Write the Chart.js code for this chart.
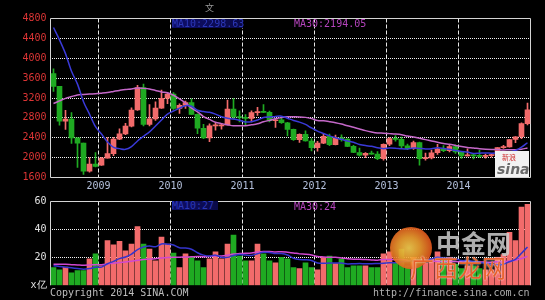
<!DOCTYPE html>
<html><head><meta charset="utf-8">
<script src="https://cdn.jsdelivr.net/npm/chart.js@4.4.1/dist/chart.umd.min.js"></script>
<style>
html,body{margin:0;padding:0;background:#000;width:545px;height:300px;overflow:hidden;}
#wrap{position:relative;width:545px;height:300px;background:#000;font-family:'DejaVu Sans Mono',monospace;}
canvas{position:absolute;left:0;}
.t{position:absolute;font-size:10px;line-height:10px;white-space:nowrap;font-family:'DejaVu Sans Mono',monospace;}
</style></head><body>
<div id="wrap">
<canvas id="price" width="545" height="196" style="top:0px"></canvas>
<canvas id="vol" width="545" height="110" style="top:190px"></canvas>

<div class="t" style="left:205px;top:3px;color:#9a9a9a;font-family:'Noto Sans CJK SC';font-size:9px;">文</div>
<div class="t" style="left:172px;top:19px;width:71px;height:9px;background:linear-gradient(90deg,#0e0e6a,#0a0a48);color:#2c38b8;">MA10:2298.63</div>
<div class="t" style="left:294px;top:19px;color:#b444bc;">MA30:2194.05</div>
<div class="t" style="left:172px;top:201px;width:46px;height:9px;background:linear-gradient(90deg,#0e0e6a,#0a0a48);color:#2c38b8;overflow:hidden;">MA10:27</div>
<div class="t" style="left:294px;top:202px;color:#b444bc;">MA30:24</div>

<div class="t" style="left:495px;top:151px;width:34px;height:26px;background:#f2f2f2;"></div>
<div class="t" style="left:502px;top:152px;color:#d03030;font-size:7px;font-family:'Noto Sans CJK SC';">新浪</div>
<div class="t" style="left:497px;top:162px;color:#6a6a6a;font-size:14px;line-height:14px;font-style:italic;font-weight:bold;font-family:'DejaVu Sans';">sina</div>

<div style="position:absolute;left:390px;top:227px;width:42px;height:42px;border-radius:50%;background:radial-gradient(circle at 45% 50%,#f8d050 0%,#f0a030 35%,#e0501a 75%,#b8300e 100%);opacity:0.9;"></div>
<div class="t" style="left:436px;top:229px;font-size:25px;line-height:27px;font-weight:bold;color:rgba(205,205,205,0.85);font-family:'Noto Sans CJK SC';">中金网</div>
<div class="t" style="left:410px;top:253px;font-size:24px;line-height:28px;color:#e8602a;text-shadow:0 0 2px #fff;font-family:'Noto Sans CJK SC';">广西龙网</div>

<div class="t" style="left:50px;top:288px;color:#bdbdbd;">Copyright 2014 SINA.COM</div>
<div class="t" style="left:373px;top:288px;color:#b0b0b0;">http://finance.sina.com.cn</div>
</div>
<script>
// Months: May 2008 .. Dec 2014 (80 monthly candles)
const startYear = 2008, startMonth = 5, monthCount = 80;
const months = [];
for (let k = 0; k < monthCount; k++) {
  const m = startMonth - 1 + k;
  months.push((startYear + Math.floor(m / 12)) + '-' + String(m % 12 + 1).padStart(2, '0'));
}
const yearLabels = ['2009','2010','2011','2012','2013','2014'];
const yearTickIdx = [8,20,32,44,56,68];

const open = [3693,3433,2736,2775,2397,2293,1729,1871,
 1849,1991,2082,2373,2477,2633,2959,3412,2667,2779,2996,3195,
 3277,2989,3052,3110,2871,2592,2398,2638,2639,2656,2979,2820,
 2808,2791,2906,2928,2911,2743,2762,2701,2568,2359,2469,2334,
 2199,2293,2428,2263,2397,2373,2226,2103,2048,2086,2069,1980,
 2269,2385,2366,2237,2178,2301,1979,1994,2098,2175,2142,2220,
 2116,2033,2056,2033,2026,2039,2048,2202,2217,2364,2420,2683];
const high = [3786,3434,2952,2909,2400,2293,2000,2100,
 2006,2402,2408,2579,2689,3000,3454,3478,3068,3123,3361,3306,
 3307,3081,3136,3181,2880,2670,2678,2707,2688,3159,3186,2940,
 2868,2944,3013,3067,2937,2784,2826,2710,2575,2480,2537,2381,
 2329,2478,2476,2454,2461,2385,2248,2191,2100,2134,2121,2277,
 2402,2444,2412,2273,2334,2315,2093,2150,2270,2243,2267,2260,
 2125,2177,2079,2148,2070,2080,2202,2248,2364,2425,2700,3100];
const low = [3333,2654,2566,2284,1802,1664,1707,1814,
 1844,1990,2038,2362,2461,2620,2950,2639,2640,2750,2990,3087,
 2970,2890,2989,2868,2481,2382,2320,2553,2573,2656,2774,2721,
 2661,2718,2849,2906,2718,2610,2687,2437,2347,2307,2330,2135,
 2132,2282,2242,2255,2333,2222,2100,2030,1998,2062,1959,1949,
 2239,2330,2187,2162,2164,1849,1950,1975,2064,2118,2116,2087,
 1984,2030,1975,2002,1991,2010,2032,2187,2210,2300,2380,2660];
const close = [3433,2736,2775,2397,2293,1729,1871,1821,
 1991,2082,2373,2477,2633,2959,3412,2667,2779,2996,3195,3277,
 2989,3052,3110,2871,2592,2398,2638,2639,2656,2979,2820,2808,
 2791,2906,2928,2911,2743,2762,2701,2568,2359,2469,2334,2199,
 2293,2428,2263,2397,2373,2226,2103,2048,2086,2069,1980,2269,
 2385,2366,2237,2178,2301,1979,1994,2098,2175,2142,2220,2116,
 2033,2056,2033,2026,2039,2048,2202,2217,2364,2420,2683,2960];
const ma10 = [4619,4371,4093,3737,3479,3126,2875,2622,
 2474,2313,2207,2181,2167,2223,2335,2429,2519,2637,2757,2877,
 2938,2996,3044,3035,2953,2926,2912,2876,2822,2792,2776,2751,
 2719,2723,2756,2808,2818,2830,2835,2794,2748,2714,2668,2597,
 2534,2486,2438,2401,2368,2334,2309,2266,2242,2229,2197,2181,
 2194,2191,2177,2172,2192,2185,2176,2179,2198,2186,2169,2144,
 2124,2111,2085,2089,2094,2089,2092,2099,2113,2144,2209,2299];
const ma30 = [3089,3142,3193,3229,3262,3272,3280,3285,
 3297,3311,3332,3353,3371,3381,3401,3394,3381,3353,3322,3304,
 3255,3182,3101,2998,2922,2827,2769,2712,2684,2661,2640,2643,
 2643,2660,2681,2721,2750,2781,2805,2821,2821,2820,2810,2785,
 2748,2740,2723,2703,2675,2640,2611,2577,2543,2516,2496,2492,
 2483,2474,2460,2433,2416,2388,2362,2335,2310,2284,2267,2245,
 2223,2206,2195,2180,2170,2165,2162,2155,2159,2159,2170,2194];
const volume = [12.7,11,13,9,10.5,10.5,19,22.5,
 14,32,29,31.5,24.6,29.6,42,29.6,26,17.6,34.5,29.6,
 23,12.7,22.5,20,17.6,12.7,19,24,19,29.6,36,21,
 17.6,17.6,29.6,22.5,17.6,16,20,19,12.7,12,16,12.7,
 11,20,21,15.5,19,12.7,14,14,14,12.7,12.7,22.5,
 24,16,26,14,20,19,16,19,24,18,20,15,
 12,14,14,12,11,11,20,22,38,32,56,58];
const vma10 = [14,13.5,13,12.5,12,11.5,12,13,
 13,15.4,17.1,19.1,20.3,22.3,25.5,27.4,28.1,27.6,29.6,29.4,
 28.8,26.9,26.7,25.8,23.3,21.6,20.9,21.6,20.0,20.0,21.3,22.1,
 21.7,21.4,22.6,23.6,23.5,22.7,22.8,21.7,19.4,18.5,18.3,17.8,
 16.0,15.7,16.0,16.0,15.9,15.3,15.4,15.6,15.4,15.4,15.6,15.8,
 16.1,16.2,16.9,17.0,17.6,18.1,18.3,18.9,20.1,19.6,19.2,19.1,
 17.7,17.7,17.1,16.4,15.9,15.1,14.7,15.1,16.9,18.6,23.0,27.4];
const vma30 = [15,15,15,14.8,14.6,14.4,14.5,14.8,
 14.8,15.3,15.8,16.3,16.7,17.2,17.9,18.4,18.8,19.0,19.5,19.9,
 20.1,20.1,20.3,20.4,20.6,20.5,20.6,20.9,21.0,21.6,22.4,22.7,
 22.9,23.2,23.8,24.2,24.2,23.9,24.1,23.7,23.2,22.5,22.2,21.7,
 20.6,20.3,20.1,20.1,19.6,19.0,18.7,18.7,18.4,18.2,18.0,18.4,
 18.5,18.3,18.5,18.0,17.4,17.4,17.3,17.4,17.2,17.0,17.1,17.1,
 16.8,16.7,16.7,16.7,16.5,16.5,16.8,16.8,17.4,18.0,19.2,20.7];

Chart.defaults.font.family = "'DejaVu Sans Mono', monospace";
Chart.defaults.font.size = 10;

const RED = '#f26b6b', GREEN = '#1faa22';
const candleColor = months.map((m, i) => close[i] >= open[i] ? RED : GREEN);
const pos = i => i + 0.5;

// Grid lines and frame drawn from the chart's own scales (tick pixels via getPixelForValue)
function gridFramePlugin(fullFrame) {
  return { id: 'gridFrame', beforeDatasetsDraw(c) {
    const a = c.chartArea, ctx = c.ctx, xs = c.scales.x, ys = c.scales.y;
    const crisp = p => Math.round(p - 0.5) + 0.5;
    ctx.save();
    ctx.lineWidth = 1;
    ctx.strokeStyle = '#e6e6e6'; ctx.setLineDash([4, 2]);
    xs.ticks.forEach(t => {
      const p = crisp(xs.getPixelForValue(t.value));
      ctx.beginPath(); ctx.moveTo(p, a.top); ctx.lineTo(p, a.bottom); ctx.stroke();
    });
    ctx.setLineDash([]);
    ctx.fillStyle = '#f4f4f4';
    ys.ticks.forEach(t => {
      if (t.value <= ys.min || t.value >= ys.max) return;
      const row = Math.floor(ys.getPixelForValue(t.value));
      for (let x = Math.ceil(a.left) + 1; x < a.right - 1; x += 2) ctx.fillRect(x, row, 1, 1);
    });
    ctx.strokeStyle = '#d4d4d4';
    ctx.beginPath();
    ctx.moveTo(a.left, a.bottom); ctx.lineTo(a.left, a.top); ctx.lineTo(a.right, a.top); ctx.lineTo(a.right, a.bottom);
    if (fullFrame) ctx.lineTo(a.left, a.bottom);
    ctx.stroke();
    ctx.restore();
  }};
}

const xAxis = (showLabels) => ({
  type: 'linear', min: 0, max: monthCount, offset: false,
  afterBuildTicks: s => { s.ticks = yearTickIdx.map(v => ({ value: v })); },
  afterFit: s => { s.height = showLabels ? 18.5 : 0; },
  ticks: { display: showLabels, autoSkip: false, maxRotation: 0, padding: 3, color: '#b4c0dc',
           callback: (v, i) => yearLabels[i] },
  grid: { display: false, offset: false, drawTicks: false },
  border: { display: false }
});

new Chart(document.getElementById('price'), {
  type: 'bar',
  data: { datasets: [
    { type: 'line', data: ma10.map((v, i) => ({ x: pos(i), y: v })), borderColor: '#3a3ad8', borderWidth: 1.5, pointRadius: 0, tension: 0.3, order: 0 },
    { type: 'line', data: ma30.map((v, i) => ({ x: pos(i), y: v })), borderColor: '#c468c8', borderWidth: 1.5, pointRadius: 0, tension: 0.3, order: 0 },
    { data: months.map((m, i) => ({ x: pos(i), y: [low[i], high[i]] })), backgroundColor: candleColor, barThickness: 1, grouped: false, order: 2 },
    { data: months.map((m, i) => ({ x: pos(i), y: [open[i], close[i]] })), backgroundColor: candleColor, barThickness: 5, grouped: false, minBarLength: 1, order: 1 }
  ]},
  options: {
    responsive: false, animation: false, events: [],
    layout: { padding: { top: 18.5, right: 14.5, left: 0, bottom: 0 } },
    plugins: { legend: { display: false }, tooltip: { enabled: false } },
    scales: {
      x: xAxis(true),
      y: { min: 1600, max: 4800, afterFit: s => { s.width = 50.5; },
           ticks: { stepSize: 400, padding: 4, color: '#dd3535', callback: v => String(v) },
           grid: { display: false, drawTicks: false },
           border: { display: false } }
    }
  },
  plugins: [gridFramePlugin(true)]
});

new Chart(document.getElementById('vol'), {
  type: 'bar',
  data: { datasets: [
    { type: 'line', data: vma10.map((v, i) => ({ x: pos(i), y: v })), borderColor: '#3434cc', borderWidth: 1.5, pointRadius: 0, tension: 0.3, order: 0 },
    { type: 'line', data: vma30.map((v, i) => ({ x: pos(i), y: v })), borderColor: '#d048d0', borderWidth: 1.5, pointRadius: 0, tension: 0.3, order: 0 },
    { data: months.map((m, i) => ({ x: pos(i), y: volume[i] })), backgroundColor: candleColor, barThickness: 5, grouped: false, order: 1 }
  ]},
  options: {
    responsive: false, animation: false, events: [],
    layout: { padding: { top: 11.5, right: 14.5, left: 0, bottom: 14.7 } },
    plugins: { legend: { display: false }, tooltip: { enabled: false } },
    scales: {
      x: xAxis(false),
      y: { min: 0, max: 60, afterFit: s => { s.width = 50.5; },
           ticks: { stepSize: 20, padding: 4, color: '#e2e2e2', callback: v => v === 0 ? 'x亿' : String(v) },
           grid: { display: false, drawTicks: false },
           border: { display: false } }
    }
  },
  plugins: [gridFramePlugin(false)]
});
</script>
</body></html>
